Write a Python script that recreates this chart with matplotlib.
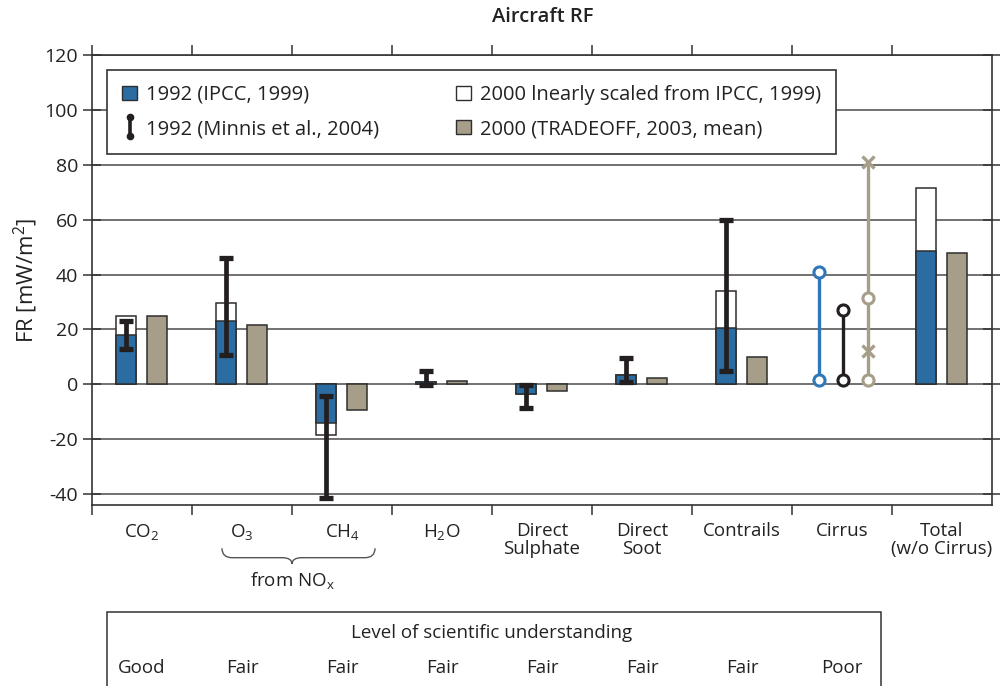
import numpy as np
import matplotlib
matplotlib.use("Agg")
import matplotlib.pyplot as plt
import matplotlib.transforms as mtransforms
from matplotlib.patches import Patch, Rectangle, PathPatch
from matplotlib.path import Path
from matplotlib.lines import Line2D
from matplotlib.legend_handler import HandlerBase

plt.rcParams["font.family"] = ["Open Sans", "DejaVu Sans"]
plt.rcParams["mathtext.default"] = "regular"
plt.rcParams["axes.unicode_minus"] = False

# radiative forcing per component, mW/m2
categories = ["CO$_2$", "O$_3$", "CH$_4$", "H$_2$O", "Direct\nSulphate",
              "Direct\nSoot", "Contrails", "Cirrus", "Total\n(w/o Cirrus)"]
ipcc_1992 = [18, 23, -14, 1, -3.5, 3.5, 20.5, np.nan, 48.5]
scaled_2000 = [25, 29.5, -18.5, 1, -3.5, 3.5, 34, np.nan, 71.5]
tradeoff_2000 = [25, 21.5, -9.5, 1.2, -2.5, 2.3, 10, np.nan, 47.8]

# Minnis et al. ranges (1992), first seven components
minnis_low = [13, 10.5, -41.5, -0.3, -8.7, 0.8, 5]
minnis_high = [23, 46, -4.3, 4.7, -0.3, 9.5, 60]

# cirrus ranges
cirrus_ipcc = [1.5, 41]
cirrus_minnis = [1.5, 27]
cirrus_tradeoff = [1.5, 81]
cirrus_tradeoff_mean = 31.5
cirrus_tradeoff_marks = [12, 81]

understanding = ["Good", "Fair", "Fair", "Fair", "Fair", "Fair", "Fair", "Poor"]

BLUE = "#2b6ca3"
TAN = "#a69e88"
DARK = "#231f20"
EDGE = "#2e2e2e"
CIRRUS_BLUE = "#2f77b8"

fig = plt.figure(figsize=(10, 6.86), dpi=100)
ax = fig.add_axes([0.092, 0.2638, 0.9, 0.656])

n = len(categories)
idx = np.arange(n)
w = 0.2
xb = idx + 0.34
xt = idx + 0.65
has_bar = ~np.isnan(np.array(ipcc_1992, dtype=float))

ax.bar(xb[has_bar], np.array(scaled_2000)[has_bar], width=w, color="white",
       edgecolor=EDGE, linewidth=1.1, zorder=2)
ax.bar(xb[has_bar], np.array(ipcc_1992)[has_bar], width=w, color=BLUE,
       edgecolor=EDGE, linewidth=1.1, zorder=3)
ax.bar(xt[has_bar], np.array(tradeoff_2000)[has_bar], width=w, color=TAN,
       edgecolor=EDGE, linewidth=1.1, zorder=3)

lo = np.array(minnis_low)
hi = np.array(minnis_high)
mid = (lo + hi) / 2
ax.errorbar(xb[:len(lo)], mid, yerr=(hi - lo) / 2, fmt="none", ecolor=DARK,
            elinewidth=3.4, capsize=5.2, capthick=3.8, zorder=4)

# cirrus: ranges only
ci = 7
ax.plot([ci + 0.27] * 2, cirrus_ipcc, color=CIRRUS_BLUE, lw=2.4, marker="o",
        ms=8, mfc="white", mec=CIRRUS_BLUE, mew=2.2, zorder=4)
ax.plot([ci + 0.51] * 2, cirrus_minnis, color=DARK, lw=2.4, marker="o",
        ms=8, mfc="white", mec=DARK, mew=2.2, zorder=4)
ax.plot([ci + 0.76] * 2, cirrus_tradeoff, color=TAN, lw=2.4, zorder=4)
ax.plot([ci + 0.76] * 2, [cirrus_tradeoff[0], cirrus_tradeoff_mean], ls="none",
        marker="o", ms=8, mfc="white", mec=TAN, mew=2.2, zorder=5)
ax.plot([ci + 0.76] * 2, cirrus_tradeoff_marks, ls="none", marker="x",
        ms=9, mec=TAN, mew=2.4, zorder=5)

ax.set_xlim(0, n)
ax.set_ylim(-44, 120)
ax.set_yticks(np.arange(-40, 121, 20))
ax.yaxis.grid(True, color="#4a4a4a", lw=1.1)
ax.set_axisbelow(True)

ax.set_xticks(idx, minor=False)
ax.set_xticklabels([])
ax.set_xticks(idx + 0.5, minor=True)
ax.set_xticklabels(categories, minor=True, fontsize=13.5, linespacing=1.0,
                   color="#222222")
ax.tick_params(axis="x", which="major", direction="out", length=7, width=1.1,
               top=True, color="#333333")
ax.tick_params(axis="x", which="minor", length=0, pad=12)
ax.tick_params(axis="y", direction="inout", length=13, width=1.1, right=True,
               labelsize=14, color="#333333", labelcolor="#222222")
for s in ax.spines.values():
    s.set_linewidth(1.2)
    s.set_color("#333333")

ax.set_ylabel("FR [mW/m$^2$]", fontsize=16, color="#222222", labelpad=3)
fig.text(0.543, 0.975, "Aircraft RF", ha="center", va="center", fontsize=14.5,
         fontweight="semibold", color="#222222")


class HandlerDumbbell(HandlerBase):
    def create_artists(self, legend, orig, xd, yd, width, height, fontsize, trans):
        cx = xd + width / 2
        line = Line2D([cx, cx], [yd - 0.15 * height, yd + 1.15 * height],
                      color=DARK, lw=2.6, marker="o", ms=4.5, mfc=DARK,
                      mec=DARK, transform=trans)
        return [line]


handles = [Patch(facecolor=BLUE, edgecolor=EDGE, lw=1),
           Line2D([], []),
           Patch(facecolor="white", edgecolor=EDGE, lw=1),
           Patch(facecolor=TAN, edgecolor=EDGE, lw=1)]
labels = ["1992 (IPCC, 1999)", "1992 (Minnis et al., 2004)",
          "2000 lnearly scaled from IPCC, 1999)",
          "2000 (TRADEOFF, 2003, mean)"]
leg = ax.legend(handles, labels, ncol=2, loc="upper left",
                bbox_to_anchor=(0.0167, 0.967), borderaxespad=0,
                fontsize=14.5, frameon=True, fancybox=False, handlelength=0.75,
                handleheight=0.75, handletextpad=0.45, columnspacing=3.8,
                labelspacing=0.7, borderpad=0.75,
                handler_map={handles[1]: HandlerDumbbell()})
leg.get_frame().set_edgecolor("#333333")
leg.get_frame().set_linewidth(1.2)
leg.get_frame().set_alpha(1)
for t in leg.get_texts():
    t.set_color("#222222")

# brace grouping O3 and CH4
tr = mtransforms.blended_transform_factory(ax.transData, ax.transAxes)
x0, x1, xc = 1.30, 2.83, 2.0
ytop, ymid, ytip = -0.096, -0.117, -0.131
r = 0.1
verts = [(x0, ytop), (x0, ymid), (x0 + r, ymid), (xc - r, ymid), (xc, ymid),
         (xc, ytip), (xc, ymid), (xc + r, ymid), (x1 - r, ymid), (x1, ymid),
         (x1, ytop)]
codes = [Path.MOVETO, Path.CURVE3, Path.CURVE3, Path.LINETO, Path.CURVE3,
         Path.CURVE3, Path.CURVE3, Path.CURVE3, Path.LINETO, Path.CURVE3,
         Path.CURVE3]
ax.add_patch(PathPatch(Path(verts, codes), transform=tr, fill=False,
                       edgecolor="#555555", lw=1.0, clip_on=False))
ax.text(xc, -0.167, "from NO$_x$", transform=tr, ha="center", va="center",
        fontsize=13.5, color="#222222")

# level of scientific understanding table
ax.add_patch(Rectangle((0.15, -0.45), 7.74, 0.212, transform=tr, fill=False,
                       edgecolor="#333333", lw=1.1, clip_on=False))
ax.text(4.0, -0.284, "Level of scientific understanding", transform=tr,
        ha="center", va="center", fontsize=13.5, color="#222222")
for i, lvl in enumerate(understanding):
    ax.text(i + 0.5, -0.362, lvl, transform=tr, ha="center", va="center",
            fontsize=13.5, color="#222222")

fig.savefig("out.png", dpi=100)
